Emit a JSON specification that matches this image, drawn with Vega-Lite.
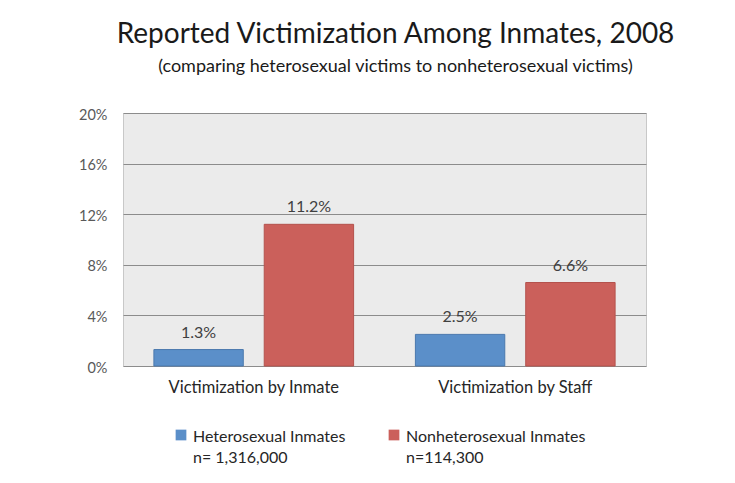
{
  "$schema": "https://vega.github.io/schema/vega-lite/v6.json",
  "autosize": "none",
  "width": 523,
  "height": 253,
  "padding": {"left": 123, "top": 113, "right": 89, "bottom": 117},
  "background": "#ffffff",
  "title": {
    "text": "Reported Victimization Among Inmates, 2008",
    "subtitle": "(comparing heterosexual victims to nonheterosexual victims)",
    "anchor": "middle",
    "dx": 11,
    "offset": 31,
    "font": "Lato",
    "fontSize": 28,
    "fontWeight": "normal",
    "color": "#1a1a1a",
    "subtitleFont": "Lato",
    "subtitleFontSize": 18,
    "subtitleColor": "#1a1a1a",
    "subtitlePadding": 9
  },
  "data": {
    "values": [
      {"category": "Victimization by Inmate", "group": "Heterosexual Inmates", "value": 1.3, "label": "1.3%"},
      {"category": "Victimization by Inmate", "group": "Nonheterosexual Inmates", "value": 11.2, "label": "11.2%"},
      {"category": "Victimization by Staff", "group": "Heterosexual Inmates", "value": 2.5, "label": "2.5%"},
      {"category": "Victimization by Staff", "group": "Nonheterosexual Inmates", "value": 6.6, "label": "6.6%"}
    ]
  },
  "encoding": {
    "x": {
      "field": "category",
      "type": "nominal",
      "scale": {"paddingInner": 0, "paddingOuter": 0},
      "axis": {
        "title": null,
        "labelAngle": 0,
        "labelFont": "Lato",
        "labelFontSize": 16.5,
        "labelColor": "#262626",
        "labelPadding": 13,
        "domain": false,
        "ticks": false
      }
    },
    "xOffset": {
      "field": "group",
      "type": "nominal",
      "scale": {"paddingInner": 0.19, "paddingOuter": 0.28}
    },
    "y": {
      "field": "value",
      "type": "quantitative",
      "scale": {"domain": [0, 20]},
      "axis": {
        "title": null,
        "values": [0, 4, 8, 12, 16, 20],
        "labelExpr": "datum.value + '%'",
        "labelFont": "Lato",
        "labelFontSize": 14.5,
        "labelColor": "#595959",
        "labelPadding": 16,
        "labelOffset": 2,
        "ticks": false,
        "domain": false,
        "grid": true,
        "gridColor": "#8c8c8c",
        "gridWidth": 1.2
      }
    }
  },
  "layer": [
    {
      "mark": {"type": "bar", "strokeWidth": 1},
      "encoding": {
        "color": {
          "field": "group",
          "type": "nominal",
          "scale": {
            "domain": ["Heterosexual Inmates", "Nonheterosexual Inmates"],
            "range": ["#5b8fc9", "#cb605b"]
          },
          "legend": {
            "title": null,
            "orient": "none",
            "legendX": 50,
            "legendY": 314,
            "padding": 0,
            "direction": "horizontal",
            "symbolType": "square",
            "symbolSize": 115,
            "symbolStrokeWidth": 0,
            "labelFont": "Lato",
            "labelFontSize": 16,
            "labelColor": "#262626",
            "labelBaseline": "top",
            "labelOffset": 4,
            "labelLimit": 400,
            "columnPadding": 40,
            "labelExpr": "datum.label == 'Heterosexual Inmates' ? ['Heterosexual Inmates', 'n= 1,316,000'] : ['Nonheterosexual Inmates', 'n=114,300']",
            "encode": {"labels": {"update": {"dy": {"value": -6}}}}
          }
        },
        "stroke": {
          "field": "group",
          "type": "nominal",
          "scale": {
            "domain": ["Heterosexual Inmates", "Nonheterosexual Inmates"],
            "range": ["#4a78ad", "#b4524d"]
          },
          "legend": null
        }
      }
    },
    {
      "mark": {
        "type": "text",
        "dy": -12,
        "baseline": "alphabetic",
        "font": "Lato",
        "fontSize": 16,
        "color": "#404040"
      },
      "encoding": {
        "text": {"field": "label", "type": "nominal"},
        "detail": {"field": "group"}
      }
    }
  ],
  "config": {
    "view": {"fill": "#ebebeb", "stroke": "#c8c8c8", "strokeWidth": 1},
    "style": {"guide-label": {"lineHeight": 21}}
  }
}
